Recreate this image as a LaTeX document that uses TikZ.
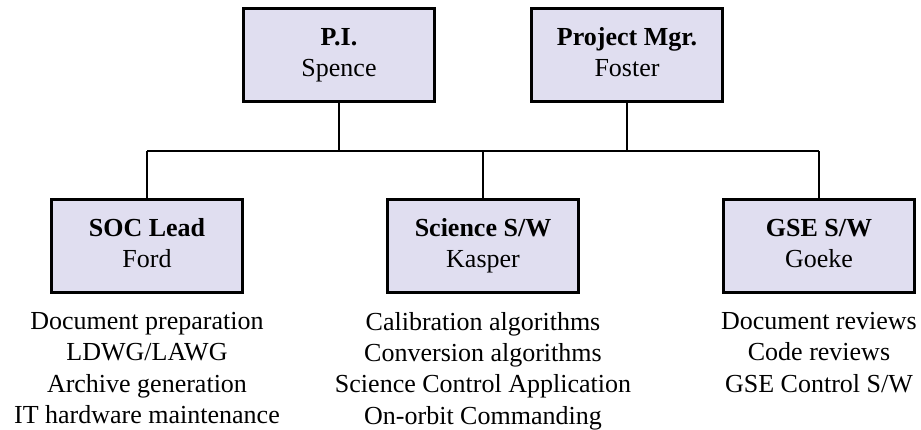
\documentclass[tikz,border=0pt]{standalone}
\usepackage{fontspec}
\setmainfont{Liberation Serif}
\usepackage{tikz}

\definecolor{boxfill}{RGB}{224,222,240}
\newcommand{\orgfont}{\fontsize{19.5}{23.5}\selectfont}

\tikzset{
  role/.style={draw, line width=2pt, fill=boxfill, minimum width=143pt, minimum height=70pt, inner sep=0pt, align=center, font=\orgfont},
  duties/.style={anchor=north, inner sep=0pt, align=center, font=\orgfont},
  link/.style={line width=1.5pt}
}

\begin{document}
\begin{tikzpicture}[x=0.75pt,y=0.75pt,yscale=-1,xscale=1]
\useasboundingbox (0,0) rectangle (921,429);

%Shape: Boxes, top row
\node [role] (pi) at (339,55) {\strut\textbf{P.I.}\\\strut Spence};
\node [role] (mgr) at (627,55) {\strut\textbf{Project Mgr.}\\\strut Foster};
%Shape: Boxes, bottom row
\node [role] (soc) at (147,246) {\strut\textbf{SOC Lead}\\\strut Ford};
\node [role] (sci) at (483,246) {\strut\textbf{Science S/W}\\\strut Kasper};
\node [role] (gse) at (819,246) {\strut\textbf{GSE S/W}\\\strut Goeke};

%Straight Lines
\coordinate (busL) at (147,151);
\coordinate (busR) at (819,151);
\draw [link] (busL) -- (busR);
\draw [link] (pi.south) -- (pi.south |- busL);
\draw [link] (mgr.south) -- (mgr.south |- busL);
\draw [link] (busL) -- (soc.north);
\draw [link] (sci.north |- busL) -- (sci.north);
\draw [link] (busR) -- (gse.north);

% Text Node
\node [duties] (socjobs) at (147,312) {Document preparation\\LDWG/LAWG\\Archive generation\\IT hardware maintenance};
% Text Node
\node [duties] (scijobs) at (483,312) {Calibration algorithms\\Conversion algorithms\\Science Control Application\\On-orbit Commanding};
% Text Node
\node [duties] (gsejobs) at (819,312) {Document reviews\\Code reviews\\GSE Control S/W};

\end{tikzpicture}
\end{document}
